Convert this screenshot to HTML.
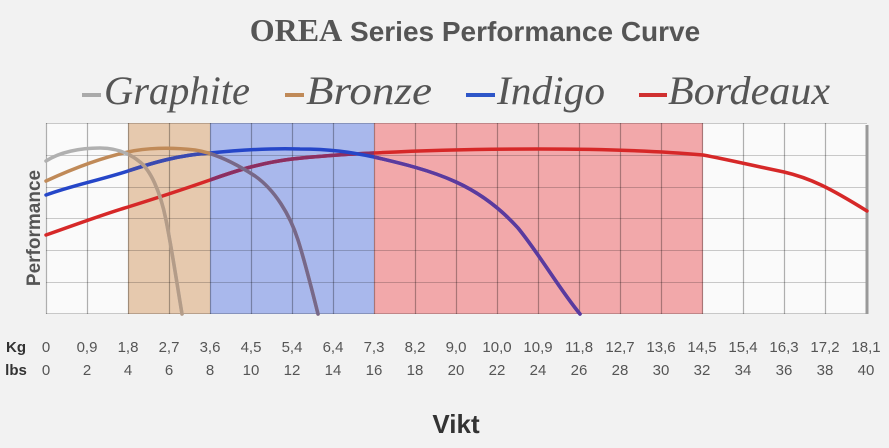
<!DOCTYPE html>
<html><head><meta charset="utf-8"><style>
html,body{margin:0;padding:0;background:#f2f2f2;}
svg{display:block}
</style></head><body>
<svg width="889" height="448" viewBox="0 0 889 448" xmlns="http://www.w3.org/2000/svg">
<defs>
<clipPath id="cBr"><rect x="128" y="100" width="82" height="230"/></clipPath>
<clipPath id="cBl"><rect x="210" y="100" width="164" height="230"/></clipPath>
<clipPath id="cRd"><rect x="374" y="100" width="329" height="230"/></clipPath>
<path id="pRed" d="M46,235 C60,230 110,212 128,207 C160,197 190,187 210,180 C235,171 260,163 292,159 C320,156 350,154 374,153 C430,150 480,149 538,149 C600,149 660,151 703,155 C730,160 750,165 784,172 C810,178 830,188 867,211"/>
<path id="pInd" d="M46,195 C70,186 100,180 128,171 C155,162 180,155 210,153 C240,150 270,148 300,149 C330,149 350,152 374,157 C400,163 430,170 456,182 C480,193 500,208 518,228 C540,255 560,290 580,314"/>
<path id="pBrz" d="M46,181 C70,170 100,158 128,152 C145,148 170,147 195,150 C215,153 235,163 255,176 C275,190 290,215 298,240 C305,262 312,290 318,314"/>
<path id="pGra" d="M46,161 C60,152 80,148 100,148 C115,148 128,152 140,162 C150,170 160,190 166,220 C172,250 178,290 182,314"/>
</defs>
<rect width="889" height="448" fill="#f2f2f2"/>
<text x="475" y="41" text-anchor="middle" font-family="Liberation Sans, sans-serif" font-weight="bold" font-size="28" fill="#555"><tspan font-family="Liberation Serif, serif" font-size="32">OREA</tspan> Series Performance Curve</text>
<g font-family="Liberation Serif, serif" font-style="italic" font-size="40" fill="#555">
<rect x="82" y="93" width="19" height="4" fill="#aaa"/>
<text x="104" y="104" textLength="146" lengthAdjust="spacingAndGlyphs">Graphite</text>
<rect x="285" y="93" width="19" height="4" fill="#c08a58"/>
<text x="306" y="104" textLength="126" lengthAdjust="spacingAndGlyphs">Bronze</text>
<rect x="466" y="93" width="29" height="4" fill="#2e56c8"/>
<text x="497" y="104" textLength="108" lengthAdjust="spacingAndGlyphs">Indigo</text>
<rect x="639" y="93" width="28" height="4" fill="#d03030"/>
<text x="668" y="104" textLength="162" lengthAdjust="spacingAndGlyphs">Bordeaux</text>
</g>
<rect x="46" y="123" width="821" height="191" fill="#fafafa"/>
<rect x="128" y="123" width="82" height="191" fill="#e6c9ae"/>
<rect x="210" y="123" width="164" height="191" fill="#a9b8ec"/>
<rect x="374" y="123" width="329" height="191" fill="#f2a8aa"/>
<g stroke="#000" stroke-opacity="0.2" stroke-width="1">
<line x1="46" y1="155.5" x2="867" y2="155.5"/><line x1="46" y1="187.5" x2="867" y2="187.5"/>
<line x1="46" y1="218.5" x2="867" y2="218.5"/><line x1="46" y1="250.5" x2="867" y2="250.5"/>
<line x1="46" y1="282.5" x2="867" y2="282.5"/><line x1="46" y1="123.5" x2="867" y2="123.5"/>
<line x1="46" y1="313.5" x2="867" y2="313.5"/>
</g>
<g stroke="#000" stroke-opacity="0.3" stroke-width="1.2">
<line x1="46.5" y1="123" x2="46.5" y2="314"/><line x1="87.5" y1="123" x2="87.5" y2="314"/><line x1="128.5" y1="123" x2="128.5" y2="314"/><line x1="169.5" y1="123" x2="169.5" y2="314"/><line x1="210.5" y1="123" x2="210.5" y2="314"/><line x1="251.5" y1="123" x2="251.5" y2="314"/><line x1="292.5" y1="123" x2="292.5" y2="314"/><line x1="333.5" y1="123" x2="333.5" y2="314"/><line x1="374.5" y1="123" x2="374.5" y2="314"/><line x1="415.5" y1="123" x2="415.5" y2="314"/><line x1="456.5" y1="123" x2="456.5" y2="314"/><line x1="497.5" y1="123" x2="497.5" y2="314"/><line x1="538.5" y1="123" x2="538.5" y2="314"/><line x1="579.5" y1="123" x2="579.5" y2="314"/><line x1="620.5" y1="123" x2="620.5" y2="314"/><line x1="661.5" y1="123" x2="661.5" y2="314"/><line x1="702.5" y1="123" x2="702.5" y2="314"/><line x1="743.5" y1="123" x2="743.5" y2="314"/><line x1="784.5" y1="123" x2="784.5" y2="314"/><line x1="825.5" y1="123" x2="825.5" y2="314"/>
</g>
<line x1="867" y1="125" x2="867" y2="314" stroke="#999" stroke-width="3"/>
<g fill="none" stroke-width="3.5" stroke-linecap="round" stroke-linejoin="round">
<use href="#pRed" stroke="#d62828"/>
<use href="#pRed" stroke="#8b2f62" clip-path="url(#cBl)"/>
<use href="#pInd" stroke="#2546c8"/>
<use href="#pInd" stroke="#3b4ab0" clip-path="url(#cBr)"/>
<use href="#pInd" stroke="#5b3a9e" clip-path="url(#cRd)"/>
<use href="#pBrz" stroke="#c08a58"/>
<use href="#pBrz" stroke="#76688a" clip-path="url(#cBl)"/>
<use href="#pGra" stroke="#b0b0b0"/>
<use href="#pGra" stroke="#b49c88" clip-path="url(#cBr)"/>
</g>
<text transform="translate(40,228) rotate(-90)" text-anchor="middle" font-family="Liberation Sans, sans-serif" font-weight="bold" font-size="19" fill="#555">Performance</text>
<g font-family="Liberation Sans, sans-serif" font-size="15" fill="#555" text-anchor="middle">
<text x="16" y="352" font-weight="bold" fill="#333">Kg</text><text x="16" y="375" font-weight="bold" fill="#333">lbs</text>
<text x="46" y="352">0</text><text x="87" y="352">0,9</text><text x="128" y="352">1,8</text><text x="169" y="352">2,7</text><text x="210" y="352">3,6</text><text x="251" y="352">4,5</text><text x="292" y="352">5,4</text><text x="333" y="352">6,4</text><text x="374" y="352">7,3</text><text x="415" y="352">8,2</text><text x="456" y="352">9,0</text><text x="497" y="352">10,0</text><text x="538" y="352">10,9</text><text x="579" y="352">11,8</text><text x="620" y="352">12,7</text><text x="661" y="352">13,6</text><text x="702" y="352">14,5</text><text x="743" y="352">15,4</text><text x="784" y="352">16,3</text><text x="825" y="352">17,2</text><text x="866" y="352">18,1</text>
<text x="46" y="375">0</text><text x="87" y="375">2</text><text x="128" y="375">4</text><text x="169" y="375">6</text><text x="210" y="375">8</text><text x="251" y="375">10</text><text x="292" y="375">12</text><text x="333" y="375">14</text><text x="374" y="375">16</text><text x="415" y="375">18</text><text x="456" y="375">20</text><text x="497" y="375">22</text><text x="538" y="375">24</text><text x="579" y="375">26</text><text x="620" y="375">28</text><text x="661" y="375">30</text><text x="702" y="375">32</text><text x="743" y="375">34</text><text x="784" y="375">36</text><text x="825" y="375">38</text><text x="866" y="375">40</text>
</g>
<text x="456" y="433" text-anchor="middle" font-family="Liberation Sans, sans-serif" font-weight="bold" font-size="26" fill="#333">Vikt</text>
</svg>
</body></html>
